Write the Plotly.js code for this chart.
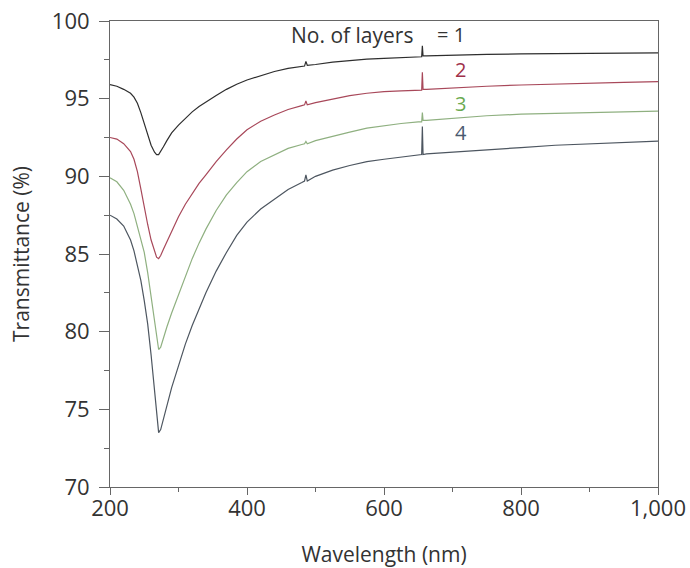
<!DOCTYPE html>
<html>
<head>
<meta charset="utf-8">
<script src="https://cdn.plot.ly/plotly-3.0.1.min.js"></script>
<style>html,body{margin:0;padding:0;background:#fff;}#chart{width:690px;height:568px;}</style>
</head>
<body>
<div id="chart"></div>
<script>
// Wavelength (nm)
const wavelength = [200, 210, 220, 230, 235, 240, 245, 250, 255, 260, 265, 268, 271, 274, 278, 283, 290, 300, 310, 320, 330, 340, 355, 370, 385, 400, 420, 440, 460, 480, 484, 486, 488, 500, 525, 550, 575, 600, 625, 650, 655, 656, 657, 662, 700, 750, 800, 850, 900, 950, 1000];
// Transmittance (%) per number of layers
const layers1 = [95.9, 95.8, 95.6, 95.35, 95.1, 94.7, 94.1, 93.4, 92.7, 92.0, 91.55, 91.4, 91.4, 91.6, 91.9, 92.3, 92.8, 93.3, 93.75, 94.15, 94.5, 94.8, 95.2, 95.6, 95.93, 96.2, 96.5, 96.75, 96.95, 97.1, 97.1, 97.4, 97.15, 97.2, 97.35, 97.45, 97.55, 97.6, 97.65, 97.7, 97.7, 98.4, 97.75, 97.75, 97.8, 97.85, 97.88, 97.9, 97.92, 97.94, 97.95];
const layers2 = [92.5, 92.4, 92.1, 91.6, 91.1, 90.3, 89.2, 88.0, 86.9, 85.9, 85.15, 84.8, 84.7, 84.9, 85.3, 85.8, 86.5, 87.4, 88.2, 88.9, 89.55, 90.1, 90.95, 91.7, 92.4, 93.0, 93.55, 93.95, 94.3, 94.55, 94.6, 94.85, 94.6, 94.75, 95.0, 95.2, 95.35, 95.45, 95.5, 95.55, 95.55, 96.7, 95.6, 95.6, 95.7, 95.8, 95.88, 95.95, 96.0, 96.05, 96.1];
const layers3 = [89.9, 89.65, 89.1, 88.2, 87.6, 86.8, 86.0, 85.1, 83.8, 82.2, 80.5, 79.5, 78.85, 79.0, 79.6, 80.3, 81.2, 82.4, 83.6, 84.7, 85.7, 86.6, 87.8, 88.8, 89.6, 90.3, 90.95, 91.4, 91.8, 92.05, 92.1, 92.25, 92.1, 92.3, 92.6, 92.85, 93.1, 93.25, 93.4, 93.5, 93.5, 94.1, 93.6, 93.6, 93.75, 93.9, 94.0, 94.05, 94.1, 94.15, 94.2];
const layers4 = [87.5, 87.25, 86.8, 85.9, 85.2, 84.3, 83.3, 82.0, 80.5, 78.5, 76.2, 74.7, 73.5, 73.7, 74.4, 75.2, 76.4, 77.8, 79.2, 80.4, 81.5, 82.5, 83.9, 85.1, 86.2, 87.05, 87.9, 88.55, 89.15, 89.6, 89.7, 90.1, 89.7, 90.0, 90.4, 90.7, 90.95, 91.1, 91.25, 91.4, 91.4, 93.2, 91.4, 91.45, 91.55, 91.7, 91.85, 92.0, 92.1, 92.2, 92.27];
const seriesNames = ['1', '2', '3', '4'];
const xTickVals = [200, 400, 600, 800, 1000];
const yTickVals = [70, 75, 80, 85, 90, 95, 100];

const colors = ['#2e2e2e', '#a8485a', '#8fb080', '#4d5660'];
const labelColors = ['#333333', '#a0304a', '#6aaa50', '#4a5a70'];
const series = [layers1, layers2, layers3, layers4];
const font = 'Open Sans, sans-serif';

const traces = series.map((s, i) => ({
  x: wavelength, y: s, type: 'scatter', mode: 'lines',
  line: {color: colors[i], width: 1.2, shape: 'linear'},
  name: seriesNames[i], showlegend: false, hoverinfo: 'skip'
}));

const labelY = [99.1, 96.85, 94.7, 92.8];
const annotations = [
  {x: 645, y: labelY[0], xref: 'x', yref: 'y', text: 'No. of layers', showarrow: false,
   xanchor: 'right', yanchor: 'middle', font: {family: font, size: 21, color: '#333'}},
  {x: 674, y: labelY[0], xref: 'x', yref: 'y', text: '= ' + seriesNames[0], showarrow: false,
   xanchor: 'left', yanchor: 'middle', font: {family: font, size: 20, color: '#333'}}
];
for (let i = 1; i < 4; i++) {
  annotations.push({x: 712, y: labelY[i], xref: 'x', yref: 'y', text: seriesNames[i], showarrow: false,
    xanchor: 'center', yanchor: 'middle', font: {family: font, size: 20, color: labelColors[i]}});
}

const layout = {
  width: 690, height: 568,
  margin: {l: 110, r: 32, t: 21, b: 81},
  paper_bgcolor: '#fff', plot_bgcolor: '#fff',
  font: {family: font, size: 21, color: '#333'},
  xaxis: {
    range: [200, 1000], tickvals: xTickVals, separatethousands: true,
    showgrid: false, zeroline: false, showline: true, linecolor: '#666', linewidth: 1, mirror: true,
    ticks: 'outside', ticklen: 7, tickcolor: '#666', tickwidth: 1,
    minor: {dtick: 100, ticklen: 4, tickcolor: '#666', ticks: 'outside'},
    ticklabelstandoff: -5,
    tickfont: {family: font, size: 22, color: '#333'},
    title: {text: 'Wavelength (nm)', font: {family: font, size: 21, color: '#333'}, standoff: 27}
  },
  yaxis: {
    range: [70, 100], tickvals: yTickVals,
    showgrid: false, zeroline: false, showline: true, linecolor: '#666', linewidth: 1, mirror: true,
    ticks: 'outside', ticklen: 10, tickcolor: '#666', tickwidth: 1,
    minor: {dtick: 2.5, ticklen: 5, tickcolor: '#666', ticks: 'outside'},
    ticklabelstandoff: 5,
    tickfont: {family: font, size: 22, color: '#333'},
    title: {text: 'Transmittance (%)', font: {family: font, size: 21, color: '#333'}, standoff: 16}
  },
  annotations: annotations
};

Plotly.newPlot('chart', traces, layout, {staticPlot: true, displayModeBar: false});
</script>
</body>
</html>
